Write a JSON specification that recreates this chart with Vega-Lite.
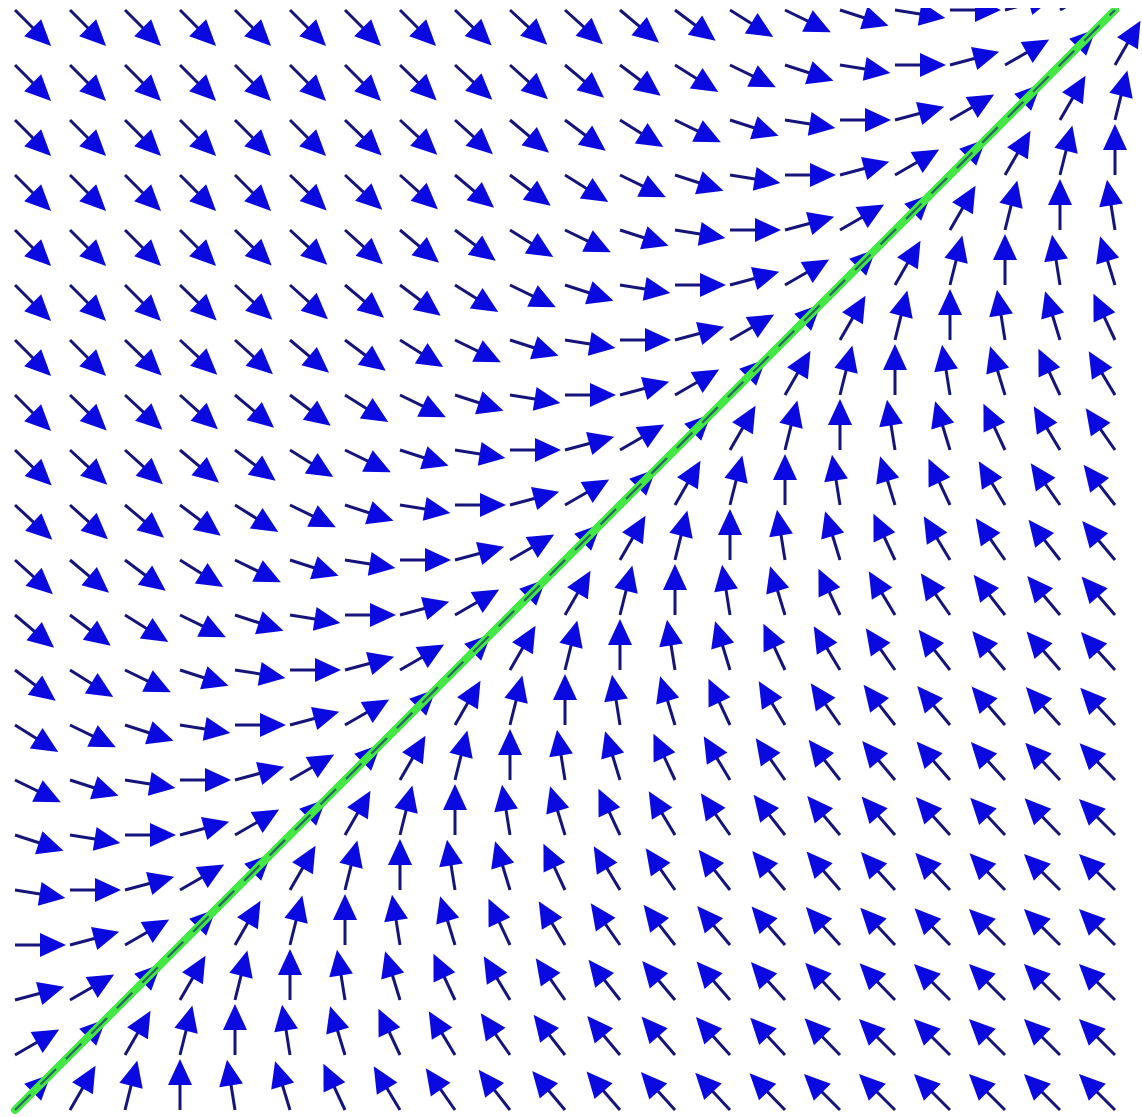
{
  "$schema": "https://vega.github.io/schema/vega-lite/v6.json",
  "width": 1142,
  "height": 1109,
  "autosize": "none",
  "padding": {"left": 0, "top": 8, "right": 0, "bottom": 0},
  "background": "white",
  "config": {"view": {"stroke": null}},
  "datasets": {
    "field": [
{"i":0,"j":0,"t":45},{"i":1,"j":0,"t":60},{"i":2,"j":0,"t":76},{"i":3,"j":0,"t":90},{"i":4,"j":0,"t":99},{"i":5,"j":0,"t":107},{"i":6,"j":0,"t":115},{"i":7,"j":0,"t":121},{"i":8,"j":0,"t":125},{"i":9,"j":0,"t":128},{"i":10,"j":0,"t":130},{"i":11,"j":0,"t":131},{"i":12,"j":0,"t":132},{"i":13,"j":0,"t":133},{"i":14,"j":0,"t":134},{"i":15,"j":0,"t":135},{"i":16,"j":0,"t":135},{"i":17,"j":0,"t":135},{"i":18,"j":0,"t":135},{"i":19,"j":0,"t":135},{"i":20,"j":0,"t":135},
{"i":0,"j":1,"t":30},{"i":1,"j":1,"t":45},{"i":2,"j":1,"t":60},{"i":3,"j":1,"t":76},{"i":4,"j":1,"t":90},{"i":5,"j":1,"t":99},{"i":6,"j":1,"t":107},{"i":7,"j":1,"t":115},{"i":8,"j":1,"t":121},{"i":9,"j":1,"t":125},{"i":10,"j":1,"t":128},{"i":11,"j":1,"t":130},{"i":12,"j":1,"t":131},{"i":13,"j":1,"t":132},{"i":14,"j":1,"t":133},{"i":15,"j":1,"t":134},{"i":16,"j":1,"t":135},{"i":17,"j":1,"t":135},{"i":18,"j":1,"t":135},{"i":19,"j":1,"t":135},{"i":20,"j":1,"t":135},
{"i":0,"j":2,"t":15},{"i":1,"j":2,"t":30},{"i":2,"j":2,"t":45},{"i":3,"j":2,"t":60},{"i":4,"j":2,"t":76},{"i":5,"j":2,"t":90},{"i":6,"j":2,"t":99},{"i":7,"j":2,"t":107},{"i":8,"j":2,"t":115},{"i":9,"j":2,"t":121},{"i":10,"j":2,"t":125},{"i":11,"j":2,"t":128},{"i":12,"j":2,"t":130},{"i":13,"j":2,"t":131},{"i":14,"j":2,"t":132},{"i":15,"j":2,"t":133},{"i":16,"j":2,"t":134},{"i":17,"j":2,"t":135},{"i":18,"j":2,"t":135},{"i":19,"j":2,"t":135},{"i":20,"j":2,"t":135},
{"i":0,"j":3,"t":0},{"i":1,"j":3,"t":15},{"i":2,"j":3,"t":30},{"i":3,"j":3,"t":45},{"i":4,"j":3,"t":60},{"i":5,"j":3,"t":76},{"i":6,"j":3,"t":90},{"i":7,"j":3,"t":99},{"i":8,"j":3,"t":107},{"i":9,"j":3,"t":115},{"i":10,"j":3,"t":121},{"i":11,"j":3,"t":125},{"i":12,"j":3,"t":128},{"i":13,"j":3,"t":130},{"i":14,"j":3,"t":131},{"i":15,"j":3,"t":132},{"i":16,"j":3,"t":133},{"i":17,"j":3,"t":134},{"i":18,"j":3,"t":135},{"i":19,"j":3,"t":135},{"i":20,"j":3,"t":135},
{"i":0,"j":4,"t":-9},{"i":1,"j":4,"t":0},{"i":2,"j":4,"t":15},{"i":3,"j":4,"t":30},{"i":4,"j":4,"t":45},{"i":5,"j":4,"t":60},{"i":6,"j":4,"t":76},{"i":7,"j":4,"t":90},{"i":8,"j":4,"t":99},{"i":9,"j":4,"t":107},{"i":10,"j":4,"t":115},{"i":11,"j":4,"t":121},{"i":12,"j":4,"t":125},{"i":13,"j":4,"t":128},{"i":14,"j":4,"t":130},{"i":15,"j":4,"t":131},{"i":16,"j":4,"t":132},{"i":17,"j":4,"t":133},{"i":18,"j":4,"t":134},{"i":19,"j":4,"t":135},{"i":20,"j":4,"t":135},
{"i":0,"j":5,"t":-18},{"i":1,"j":5,"t":-9},{"i":2,"j":5,"t":0},{"i":3,"j":5,"t":15},{"i":4,"j":5,"t":30},{"i":5,"j":5,"t":45},{"i":6,"j":5,"t":60},{"i":7,"j":5,"t":76},{"i":8,"j":5,"t":90},{"i":9,"j":5,"t":99},{"i":10,"j":5,"t":107},{"i":11,"j":5,"t":115},{"i":12,"j":5,"t":121},{"i":13,"j":5,"t":125},{"i":14,"j":5,"t":128},{"i":15,"j":5,"t":130},{"i":16,"j":5,"t":131},{"i":17,"j":5,"t":132},{"i":18,"j":5,"t":133},{"i":19,"j":5,"t":134},{"i":20,"j":5,"t":135},
{"i":0,"j":6,"t":-26},{"i":1,"j":6,"t":-18},{"i":2,"j":6,"t":-9},{"i":3,"j":6,"t":0},{"i":4,"j":6,"t":15},{"i":5,"j":6,"t":30},{"i":6,"j":6,"t":45},{"i":7,"j":6,"t":60},{"i":8,"j":6,"t":76},{"i":9,"j":6,"t":90},{"i":10,"j":6,"t":99},{"i":11,"j":6,"t":107},{"i":12,"j":6,"t":115},{"i":13,"j":6,"t":121},{"i":14,"j":6,"t":125},{"i":15,"j":6,"t":128},{"i":16,"j":6,"t":130},{"i":17,"j":6,"t":131},{"i":18,"j":6,"t":132},{"i":19,"j":6,"t":133},{"i":20,"j":6,"t":134},
{"i":0,"j":7,"t":-32},{"i":1,"j":7,"t":-26},{"i":2,"j":7,"t":-18},{"i":3,"j":7,"t":-9},{"i":4,"j":7,"t":0},{"i":5,"j":7,"t":15},{"i":6,"j":7,"t":30},{"i":7,"j":7,"t":45},{"i":8,"j":7,"t":60},{"i":9,"j":7,"t":76},{"i":10,"j":7,"t":90},{"i":11,"j":7,"t":99},{"i":12,"j":7,"t":107},{"i":13,"j":7,"t":115},{"i":14,"j":7,"t":121},{"i":15,"j":7,"t":125},{"i":16,"j":7,"t":128},{"i":17,"j":7,"t":130},{"i":18,"j":7,"t":131},{"i":19,"j":7,"t":132},{"i":20,"j":7,"t":133},
{"i":0,"j":8,"t":-37},{"i":1,"j":8,"t":-32},{"i":2,"j":8,"t":-26},{"i":3,"j":8,"t":-18},{"i":4,"j":8,"t":-9},{"i":5,"j":8,"t":0},{"i":6,"j":8,"t":15},{"i":7,"j":8,"t":30},{"i":8,"j":8,"t":45},{"i":9,"j":8,"t":60},{"i":10,"j":8,"t":76},{"i":11,"j":8,"t":90},{"i":12,"j":8,"t":99},{"i":13,"j":8,"t":107},{"i":14,"j":8,"t":115},{"i":15,"j":8,"t":121},{"i":16,"j":8,"t":125},{"i":17,"j":8,"t":128},{"i":18,"j":8,"t":130},{"i":19,"j":8,"t":131},{"i":20,"j":8,"t":132},
{"i":0,"j":9,"t":-40},{"i":1,"j":9,"t":-37},{"i":2,"j":9,"t":-32},{"i":3,"j":9,"t":-26},{"i":4,"j":9,"t":-18},{"i":5,"j":9,"t":-9},{"i":6,"j":9,"t":0},{"i":7,"j":9,"t":15},{"i":8,"j":9,"t":30},{"i":9,"j":9,"t":45},{"i":10,"j":9,"t":60},{"i":11,"j":9,"t":76},{"i":12,"j":9,"t":90},{"i":13,"j":9,"t":99},{"i":14,"j":9,"t":107},{"i":15,"j":9,"t":115},{"i":16,"j":9,"t":121},{"i":17,"j":9,"t":125},{"i":18,"j":9,"t":128},{"i":19,"j":9,"t":130},{"i":20,"j":9,"t":131},
{"i":0,"j":10,"t":-42},{"i":1,"j":10,"t":-40},{"i":2,"j":10,"t":-37},{"i":3,"j":10,"t":-32},{"i":4,"j":10,"t":-26},{"i":5,"j":10,"t":-18},{"i":6,"j":10,"t":-9},{"i":7,"j":10,"t":0},{"i":8,"j":10,"t":15},{"i":9,"j":10,"t":30},{"i":10,"j":10,"t":45},{"i":11,"j":10,"t":60},{"i":12,"j":10,"t":76},{"i":13,"j":10,"t":90},{"i":14,"j":10,"t":99},{"i":15,"j":10,"t":107},{"i":16,"j":10,"t":115},{"i":17,"j":10,"t":121},{"i":18,"j":10,"t":125},{"i":19,"j":10,"t":128},{"i":20,"j":10,"t":130},
{"i":0,"j":11,"t":-43},{"i":1,"j":11,"t":-42},{"i":2,"j":11,"t":-40},{"i":3,"j":11,"t":-37},{"i":4,"j":11,"t":-32},{"i":5,"j":11,"t":-26},{"i":6,"j":11,"t":-18},{"i":7,"j":11,"t":-9},{"i":8,"j":11,"t":0},{"i":9,"j":11,"t":15},{"i":10,"j":11,"t":30},{"i":11,"j":11,"t":45},{"i":12,"j":11,"t":60},{"i":13,"j":11,"t":76},{"i":14,"j":11,"t":90},{"i":15,"j":11,"t":99},{"i":16,"j":11,"t":107},{"i":17,"j":11,"t":115},{"i":18,"j":11,"t":121},{"i":19,"j":11,"t":125},{"i":20,"j":11,"t":128},
{"i":0,"j":12,"t":-44},{"i":1,"j":12,"t":-43},{"i":2,"j":12,"t":-42},{"i":3,"j":12,"t":-40},{"i":4,"j":12,"t":-37},{"i":5,"j":12,"t":-32},{"i":6,"j":12,"t":-26},{"i":7,"j":12,"t":-18},{"i":8,"j":12,"t":-9},{"i":9,"j":12,"t":0},{"i":10,"j":12,"t":15},{"i":11,"j":12,"t":30},{"i":12,"j":12,"t":45},{"i":13,"j":12,"t":60},{"i":14,"j":12,"t":76},{"i":15,"j":12,"t":90},{"i":16,"j":12,"t":99},{"i":17,"j":12,"t":107},{"i":18,"j":12,"t":115},{"i":19,"j":12,"t":121},{"i":20,"j":12,"t":125},
{"i":0,"j":13,"t":-45},{"i":1,"j":13,"t":-44},{"i":2,"j":13,"t":-43},{"i":3,"j":13,"t":-42},{"i":4,"j":13,"t":-40},{"i":5,"j":13,"t":-37},{"i":6,"j":13,"t":-32},{"i":7,"j":13,"t":-26},{"i":8,"j":13,"t":-18},{"i":9,"j":13,"t":-9},{"i":10,"j":13,"t":0},{"i":11,"j":13,"t":15},{"i":12,"j":13,"t":30},{"i":13,"j":13,"t":45},{"i":14,"j":13,"t":60},{"i":15,"j":13,"t":76},{"i":16,"j":13,"t":90},{"i":17,"j":13,"t":99},{"i":18,"j":13,"t":107},{"i":19,"j":13,"t":115},{"i":20,"j":13,"t":121},
{"i":0,"j":14,"t":-45},{"i":1,"j":14,"t":-45},{"i":2,"j":14,"t":-44},{"i":3,"j":14,"t":-43},{"i":4,"j":14,"t":-42},{"i":5,"j":14,"t":-40},{"i":6,"j":14,"t":-37},{"i":7,"j":14,"t":-32},{"i":8,"j":14,"t":-26},{"i":9,"j":14,"t":-18},{"i":10,"j":14,"t":-9},{"i":11,"j":14,"t":0},{"i":12,"j":14,"t":15},{"i":13,"j":14,"t":30},{"i":14,"j":14,"t":45},{"i":15,"j":14,"t":60},{"i":16,"j":14,"t":76},{"i":17,"j":14,"t":90},{"i":18,"j":14,"t":99},{"i":19,"j":14,"t":107},{"i":20,"j":14,"t":115},
{"i":0,"j":15,"t":-45},{"i":1,"j":15,"t":-45},{"i":2,"j":15,"t":-45},{"i":3,"j":15,"t":-44},{"i":4,"j":15,"t":-43},{"i":5,"j":15,"t":-42},{"i":6,"j":15,"t":-40},{"i":7,"j":15,"t":-37},{"i":8,"j":15,"t":-32},{"i":9,"j":15,"t":-26},{"i":10,"j":15,"t":-18},{"i":11,"j":15,"t":-9},{"i":12,"j":15,"t":0},{"i":13,"j":15,"t":15},{"i":14,"j":15,"t":30},{"i":15,"j":15,"t":45},{"i":16,"j":15,"t":60},{"i":17,"j":15,"t":76},{"i":18,"j":15,"t":90},{"i":19,"j":15,"t":99},{"i":20,"j":15,"t":107},
{"i":0,"j":16,"t":-45},{"i":1,"j":16,"t":-45},{"i":2,"j":16,"t":-45},{"i":3,"j":16,"t":-45},{"i":4,"j":16,"t":-44},{"i":5,"j":16,"t":-43},{"i":6,"j":16,"t":-42},{"i":7,"j":16,"t":-40},{"i":8,"j":16,"t":-37},{"i":9,"j":16,"t":-32},{"i":10,"j":16,"t":-26},{"i":11,"j":16,"t":-18},{"i":12,"j":16,"t":-9},{"i":13,"j":16,"t":0},{"i":14,"j":16,"t":15},{"i":15,"j":16,"t":30},{"i":16,"j":16,"t":45},{"i":17,"j":16,"t":60},{"i":18,"j":16,"t":76},{"i":19,"j":16,"t":90},{"i":20,"j":16,"t":99},
{"i":0,"j":17,"t":-45},{"i":1,"j":17,"t":-45},{"i":2,"j":17,"t":-45},{"i":3,"j":17,"t":-45},{"i":4,"j":17,"t":-45},{"i":5,"j":17,"t":-44},{"i":6,"j":17,"t":-43},{"i":7,"j":17,"t":-42},{"i":8,"j":17,"t":-40},{"i":9,"j":17,"t":-37},{"i":10,"j":17,"t":-32},{"i":11,"j":17,"t":-26},{"i":12,"j":17,"t":-18},{"i":13,"j":17,"t":-9},{"i":14,"j":17,"t":0},{"i":15,"j":17,"t":15},{"i":16,"j":17,"t":30},{"i":17,"j":17,"t":45},{"i":18,"j":17,"t":60},{"i":19,"j":17,"t":76},{"i":20,"j":17,"t":90},
{"i":0,"j":18,"t":-45},{"i":1,"j":18,"t":-45},{"i":2,"j":18,"t":-45},{"i":3,"j":18,"t":-45},{"i":4,"j":18,"t":-45},{"i":5,"j":18,"t":-45},{"i":6,"j":18,"t":-44},{"i":7,"j":18,"t":-43},{"i":8,"j":18,"t":-42},{"i":9,"j":18,"t":-40},{"i":10,"j":18,"t":-37},{"i":11,"j":18,"t":-32},{"i":12,"j":18,"t":-26},{"i":13,"j":18,"t":-18},{"i":14,"j":18,"t":-9},{"i":15,"j":18,"t":0},{"i":16,"j":18,"t":15},{"i":17,"j":18,"t":30},{"i":18,"j":18,"t":45},{"i":19,"j":18,"t":60},{"i":20,"j":18,"t":76},
{"i":0,"j":19,"t":-45},{"i":1,"j":19,"t":-45},{"i":2,"j":19,"t":-45},{"i":3,"j":19,"t":-45},{"i":4,"j":19,"t":-45},{"i":5,"j":19,"t":-45},{"i":6,"j":19,"t":-45},{"i":7,"j":19,"t":-44},{"i":8,"j":19,"t":-43},{"i":9,"j":19,"t":-42},{"i":10,"j":19,"t":-40},{"i":11,"j":19,"t":-37},{"i":12,"j":19,"t":-32},{"i":13,"j":19,"t":-26},{"i":14,"j":19,"t":-18},{"i":15,"j":19,"t":-9},{"i":16,"j":19,"t":0},{"i":17,"j":19,"t":15},{"i":18,"j":19,"t":30},{"i":19,"j":19,"t":45},{"i":20,"j":19,"t":60},
{"i":0,"j":20,"t":-45},{"i":1,"j":20,"t":-45},{"i":2,"j":20,"t":-45},{"i":3,"j":20,"t":-45},{"i":4,"j":20,"t":-45},{"i":5,"j":20,"t":-45},{"i":6,"j":20,"t":-45},{"i":7,"j":20,"t":-45},{"i":8,"j":20,"t":-44},{"i":9,"j":20,"t":-43},{"i":10,"j":20,"t":-42},{"i":11,"j":20,"t":-40},{"i":12,"j":20,"t":-37},{"i":13,"j":20,"t":-32},{"i":14,"j":20,"t":-26},{"i":15,"j":20,"t":-18},{"i":16,"j":20,"t":-9},{"i":17,"j":20,"t":0},{"i":18,"j":20,"t":15},{"i":19,"j":20,"t":30},{"i":20,"j":20,"t":45}
    ],
    "diag": [{"i": 0, "j": 0}, {"i": 20, "j": 20}]
  },
  "layer": [
    {
      "data": {"name": "field"},
      "mark": {"type": "point", "shape": "M-1.5,0L1.5,0L1.5,-30L-1.5,-30Z", "filled": true, "size": 4, "color": "#14147a", "opacity": 1, "clip": true},
      "encoding": {
        "x": {"field": "i", "type": "quantitative", "scale": {"domain": [-0.272727, 20.490909], "nice": false, "zero": false}, "axis": null},
        "y": {"field": "j", "type": "quantitative", "scale": {"domain": [-0.127273, 20.036364], "nice": false, "zero": false}, "axis": null},
        "angle": {"field": "t", "type": "quantitative", "scale": {"domain": [-90, 180], "range": [180, -90]}, "legend": null}
      }
    },
    {
      "data": {"name": "field"},
      "mark": {"type": "point", "shape": "M0,-51L-12,-25L12,-25Z", "filled": true, "size": 4, "color": "#0a0ae0", "opacity": 1, "clip": true},
      "encoding": {
        "x": {"field": "i", "type": "quantitative", "axis": null},
        "y": {"field": "j", "type": "quantitative", "axis": null},
        "angle": {"field": "t", "type": "quantitative", "legend": null}
      }
    },
    {
      "data": {"name": "diag"},
      "mark": {"type": "line", "color": "#44e844", "strokeWidth": 8, "strokeCap": "round", "clip": true},
      "encoding": {
        "x": {"field": "i", "type": "quantitative", "axis": null},
        "y": {"field": "j", "type": "quantitative", "axis": null}
      }
    },
    {
      "data": {"name": "diag"},
      "mark": {"type": "line", "color": "#1c3c6c", "strokeWidth": 2.2, "opacity": 0.75, "strokeDash": [22, 14], "clip": true},
      "encoding": {
        "x": {"field": "i", "type": "quantitative", "axis": null},
        "y": {"field": "j", "type": "quantitative", "axis": null}
      }
    }
  ]
}
